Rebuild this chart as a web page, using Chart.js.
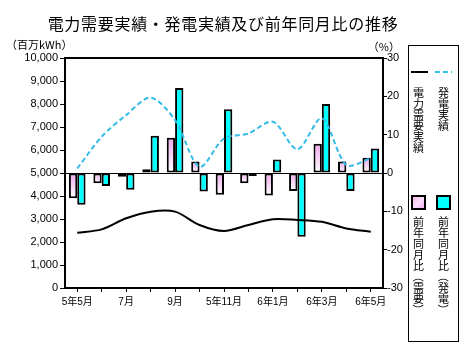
<!DOCTYPE html>
<html>
<head>
<meta charset="utf-8">
<script src="https://cdn.jsdelivr.net/npm/chart.js@4"></script>
<style>
  html, body { margin: 0; padding: 0; background: #fff; }
  #wrap { width: 465px; height: 349px; }
</style>
</head>
<body>
<div id="wrap"><canvas id="chart" width="465" height="349"></canvas></div>
<script>
// ===== data =====
const months = ['5年5月', '5年6月', '5年7月', '5年8月', '5年9月', '5年10月', '5年11月',
  '5年12月', '6年1月', '6年2月', '6年3月', '6年4月', '6年5月'];
const tickLabels = ['5年5月', '7月', '9月', '5年11月', '6年1月', '6年3月', '6年5月'];

const demand = [2400, 2550, 3030, 3320, 3320, 2740, 2480, 2740, 2990, 2960, 2880, 2590, 2450];   // 百万kWh
const generation = [5200, 6580, 7520, 8280, 7300, 5270, 6500, 6720, 7230, 6030, 7380, 5350, 5640];
const demandYoY = [-6.6, -2.7, -1.0, 1.0, 9.2, 3.0, -5.7, -2.7, -5.9, -4.7, 7.6, 3.0, 4.0];   // %
const genYoY = [-8.3, -3.4, -4.4, 9.7, 22.2, -4.8, 16.6, -0.8, 3.5, -16.6, 18.0, -4.7, 6.4];

const title = '電力需要実績・発電実績及び前年同月比の推移';
const labels = ['電力需要実績', '発電実績', '前年同月比（需要）', '前年同月比（発電）'];

const PINK = '#f0a8ee';
const CYAN = '#00ffff';
const DASH = '#33bbe8';
const JP = '"Noto Sans CJK JP"';
const NUM = '"Liberation Sans", "Noto Sans CJK JP"';

// pink bars: pink at top fading to white at bottom, per bar
function pinkFill(c) {
  const chart = c.chart;
  if (c.type !== 'data' || !chart.scales.y2) return PINK;
  const s = chart.scales.y2;
  const v = c.parsed ? c.parsed.y : demandYoY[c.dataIndex];
  const top = s.getPixelForValue(Math.max(v, 0));
  const bot = s.getPixelForValue(Math.min(v, 0));
  if (!isFinite(top) || !isFinite(bot) || top === bot) return PINK;
  const g = chart.ctx.createLinearGradient(0, top, 0, bot);
  g.addColorStop(0, PINK);
  g.addColorStop(1, '#ffffff');
  return g;
}

// write one column of vertical text
function vText(ctx, str, x, y, step) {
  for (const ch of str) {
    const cy = y + step / 2;
    if (ch === '（' || ch === '）') {
      ctx.save();
      ctx.translate(x, cy);
      ctx.rotate(Math.PI / 2);
      ctx.fillText(ch, 0, 0);
      ctx.restore();
    } else {
      ctx.fillText(ch, x, cy);
    }
    y += step;
  }
}

const decor = {
  id: 'decor',
  afterDraw(chart) {
    const ctx = chart.ctx, a = chart.chartArea;
    ctx.save();
    // frame round the plot
    ctx.strokeStyle = '#000';
    ctx.lineWidth = 2;
    ctx.strokeRect(a.left, a.top, a.right - a.left, a.bottom - a.top);

    // title + unit labels
    ctx.fillStyle = '#000';
    ctx.textBaseline = 'middle';
    ctx.textAlign = 'center';
    ctx.font = '16px ' + JP;
    ctx.letterSpacing = '0.7px';
    ctx.fillText(title, 223, 24);
    ctx.letterSpacing = '0px';
    ctx.font = '11px ' + JP;
    ctx.textAlign = 'left';
    ctx.fillText('（百万kWh）', 6, 45);
    ctx.textAlign = 'right';
    ctx.fillText('（%）', 400, 47);

    // legend box
    ctx.lineWidth = 1;
    ctx.strokeRect(408.5, 45.5, 50, 296);
    // line swatches
    ctx.lineWidth = 2;
    ctx.beginPath(); ctx.moveTo(411, 72); ctx.lineTo(428, 72); ctx.stroke();
    ctx.strokeStyle = DASH;
    ctx.setLineDash([5, 3]);
    ctx.beginPath(); ctx.moveTo(435, 72); ctx.lineTo(452, 72); ctx.stroke();
    ctx.setLineDash([]);
    // bar swatches
    const g = ctx.createLinearGradient(412, 196, 425, 209);
    g.addColorStop(0, PINK); g.addColorStop(0.5, '#fbe0fb'); g.addColorStop(1, PINK);
    ctx.fillStyle = g;
    ctx.fillRect(412, 196, 13, 13);
    ctx.fillStyle = CYAN;
    ctx.fillRect(437, 196, 13, 13);
    ctx.strokeStyle = '#000';
    ctx.lineWidth = 2;
    ctx.strokeRect(412, 196, 13, 13);
    ctx.strokeRect(437, 196, 13, 13);

    ctx.fillStyle = '#000';
    ctx.font = '11px ' + JP;
    ctx.textAlign = 'center';
    ctx.textBaseline = 'middle';
    vText(ctx, labels[0], 418.5, 87, 11);
    vText(ctx, labels[1], 443.5, 87, 11);
    vText(ctx, labels[2], 418.5, 216, 11);
    vText(ctx, labels[3], 443.5, 216, 11);
    ctx.restore();
  }
};

new Chart(document.getElementById('chart'), {
  data: {
    labels: months,
    datasets: [
      {
        type: 'line', label: labels[0], data: demand, yAxisID: 'y', order: 0,
        borderColor: '#000', borderWidth: 2, pointRadius: 0, tension: 0.3, fill: false
      },
      {
        type: 'line', label: labels[1], data: generation, yAxisID: 'y', order: 0,
        borderColor: DASH, borderWidth: 2, borderDash: [5, 3], pointRadius: 0, tension: 0.3, fill: false
      },
      {
        type: 'bar', label: labels[2], data: demandYoY, yAxisID: 'y2', order: 1,
        backgroundColor: pinkFill, borderColor: '#000', borderWidth: 2, borderSkipped: false,
        categoryPercentage: 0.68, barPercentage: 1.0
      },
      {
        type: 'bar', label: labels[3], data: genYoY, yAxisID: 'y2', order: 1,
        backgroundColor: CYAN, borderColor: '#000', borderWidth: 2, borderSkipped: false,
        categoryPercentage: 0.68, barPercentage: 1.0
      }
    ]
  },
  options: {
    responsive: false,
    animation: false,
    devicePixelRatio: 1,
    layout: { padding: { top: 58, left: 0, right: 57, bottom: 31 } },
    plugins: { legend: { display: false }, tooltip: { enabled: false } },
    scales: {
      x: {
        type: 'category', offset: true,
        afterFit: s => { s.height = 30; },
        grid: { display: true, drawOnChartArea: false, offset: false, tickLength: 4, tickColor: '#000' },
        border: { display: true, color: '#000', width: 2 },
        ticks: {
          autoSkip: false, maxRotation: 0, padding: 4, color: '#000',
          font: { family: NUM, size: 10 },
          callback: (v, i) => (i % 2 === 0 ? tickLabels[i / 2] : '')
        }
      },
      y: {
        position: 'left', min: 0, max: 10000,
        afterFit: s => { s.width = 65; },
        grid: { drawOnChartArea: false, tickLength: 5, tickColor: '#000' },
        border: { display: true, color: '#000', width: 2 },
        ticks: {
          stepSize: 1000, padding: 2, color: '#000',
          font: { family: NUM, size: 11 },
          callback: v => v.toLocaleString('en-US')
        }
      },
      y2: {
        position: 'right', min: -30, max: 30,
        afterFit: s => { s.width = 25; },
        grid: {
          drawOnChartArea: true, tickLength: 4, tickColor: '#000', lineWidth: 1,
          color: c => (c.tick && c.tick.value === 0 ? '#000' : 'rgba(0,0,0,0)')
        },
        border: { display: true, color: '#000', width: 2 },
        ticks: {
          stepSize: 10, padding: 0, color: '#000',
          font: { family: NUM, size: 11 }
        }
      }
    }
  },
  plugins: [decor]
});
</script>
</body>
</html>
